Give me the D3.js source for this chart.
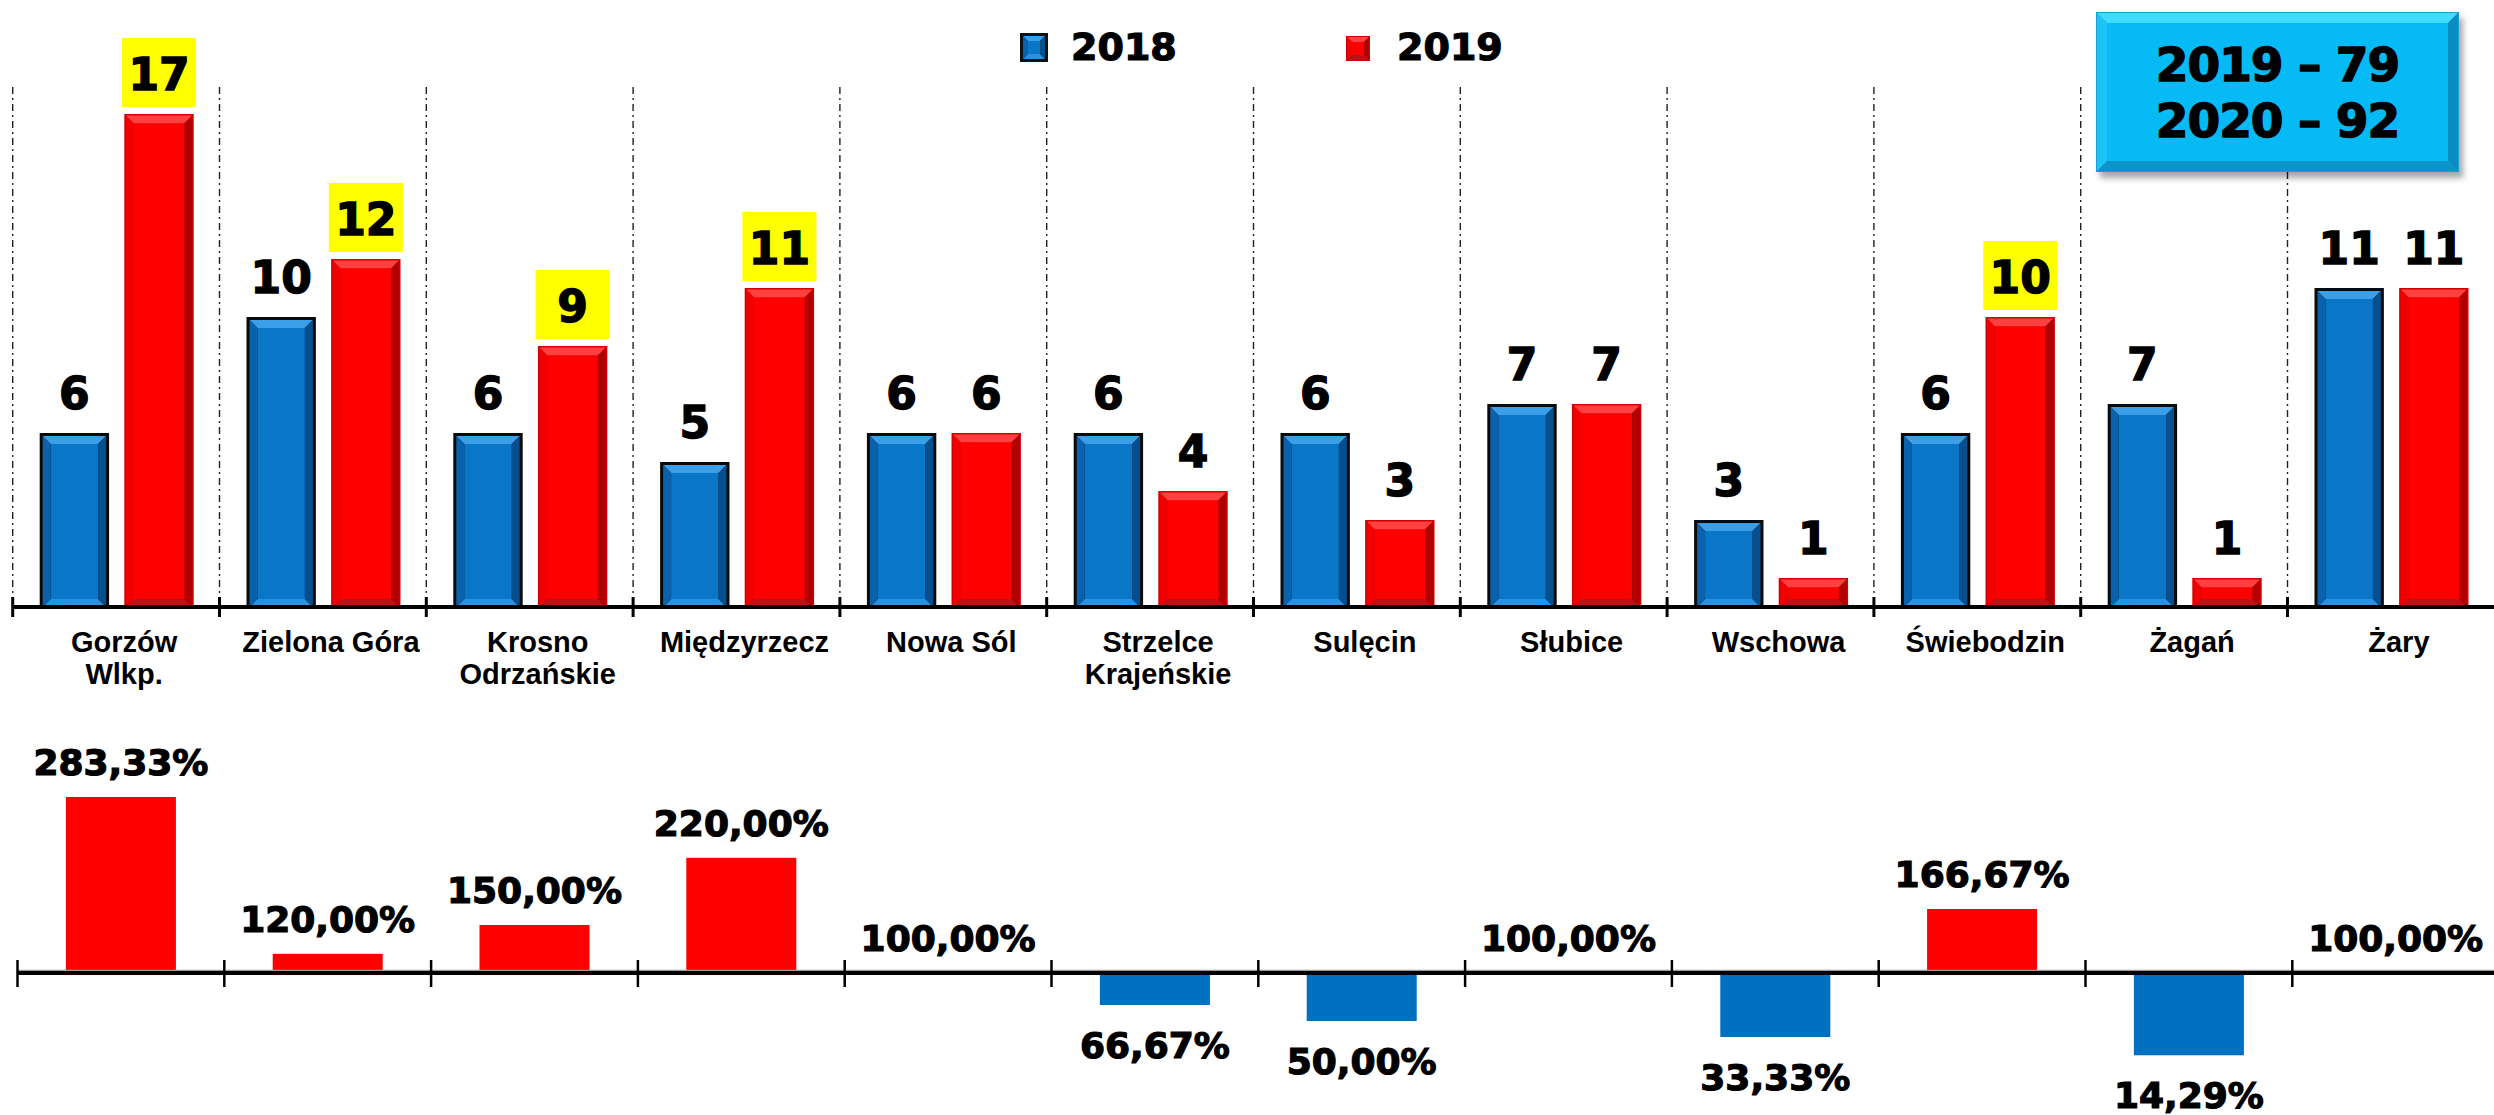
<!DOCTYPE html>
<html><head><meta charset="utf-8">
<script src="https://cdn.jsdelivr.net/npm/d3@7"></script>
<style>html,body{margin:0;padding:0;background:#fff;overflow:hidden} svg{display:block}</style>
</head><body>
<svg id="c" width="2494" height="1115"></svg>
<script>
// ---------- data ----------
const categories = ["Gorzów\nWlkp.", "Zielona Góra", "Krosno\nOdrzańskie", "Międzyrzecz", "Nowa Sól",
  "Strzelce\nKrajeńskie", "Sulęcin", "Słubice", "Wschowa", "Świebodzin", "Żagań", "Żary"];
const years = ["2018", "2019"];
const values2018 = [6, 10, 6, 5, 6, 6, 6, 7, 3, 6, 7, 11];
const values2019 = [17, 12, 9, 11, 6, 4, 3, 7, 1, 10, 1, 11];
const changePct = [283.33, 120.00, 150.00, 220.00, 100.00, 66.67, 50.00, 100.00, 33.33, 166.67, 14.29, 100.00];
const totalYears = ["2019", "2020"];
const totalValues = [79, 92];

// ---------- setup ----------
const W = 2494, H = 1115;
const svg = d3.select("#c");
svg.append("rect").attr("width", W).attr("height", H).attr("fill", "#fff");
const NUM_FONT = "'DejaVu Sans', 'Liberation Sans', sans-serif";
const LBL_FONT = "'Liberation Sans', Arial, sans-serif";

const defs = svg.append("defs");
const f = defs.append("filter").attr("id", "shadow").attr("x", "-10%").attr("y", "-10%").attr("width", "130%").attr("height", "140%");
f.append("feDropShadow").attr("dx", 4).attr("dy", 6).attr("stdDeviation", 3).attr("flood-color", "#000").attr("flood-opacity", 0.35);

const blueC = {top: "#3a9fe8", bottom: "#2a90e0", left: "#0a62ac", right: "#054f8e", face: "#0976c8"};
const redC = {top: "#ff4040", bottom: "#b81414", left: "#f00000", right: "#b00000", face: "#ff0000"};
const cyanC = {top: "#3fdcff", bottom: "#0a94c8", left: "#1cc4f6", right: "#0a8cc0", face: "#05baf5"};

function bevel(g, x0, y0, w, h, t, c) {
  t = Math.min(t, h / 2 - 1, w / 2 - 1);
  const P = pts => pts.map(p => p.join(",")).join(" ");
  g.append("polygon").attr("points", P([[x0, y0], [x0 + w, y0], [x0 + w - t, y0 + t], [x0 + t, y0 + t]])).attr("fill", c.top);
  g.append("polygon").attr("points", P([[x0, y0 + h], [x0 + w, y0 + h], [x0 + w - t, y0 + h - t], [x0 + t, y0 + h - t]])).attr("fill", c.bottom);
  g.append("polygon").attr("points", P([[x0, y0], [x0 + t, y0 + t], [x0 + t, y0 + h - t], [x0, y0 + h]])).attr("fill", c.left);
  g.append("polygon").attr("points", P([[x0 + w, y0], [x0 + w - t, y0 + t], [x0 + w - t, y0 + h - t], [x0 + w, y0 + h]])).attr("fill", c.right);
  g.append("rect").attr("x", x0 + t).attr("y", y0 + t).attr("width", Math.max(0, w - 2 * t)).attr("height", Math.max(0, h - 2 * t)).attr("fill", c.face);
}
function blueBar(g, x0, y0, w, h) {
  g.append("rect").attr("x", x0).attr("y", y0).attr("width", w).attr("height", h).attr("fill", "#0a0a0a");
  bevel(g, x0 + 3, y0 + 3, w - 6, h - 3, 8, blueC);
}
function redBar(g, x0, y0, w, h) {
  g.append("rect").attr("x", x0).attr("y", y0).attr("width", w).attr("height", h).attr("fill", "#d00000");
  bevel(g, x0 + 1.5, y0 + 1.5, w - 3, h - 1.5, 8, redC);
}

// ---------- top chart ----------
const top0 = 607;
const x = d3.scaleBand().domain(categories).range([12.7, 12.7 + 12 * 206.8]).padding(0);
const xi = d3.scaleBand().domain(years).range([27, 181]).paddingInner(0.18);
const y = d3.scaleLinear().domain([0, 17]).range([top0, 114]);

const gTop = svg.append("g");
// dotted separators
gTop.selectAll("line.sep").data(categories).join("line")
  .attr("x1", d => x(d)).attr("x2", d => x(d))
  .attr("y1", 87).attr("y2", top0)
  .attr("stroke", "#222").attr("stroke-width", 1.4).attr("stroke-dasharray", "7,4,2,4");

const series = [values2018, values2019];
categories.forEach((c, i) => {
  const g = gTop.append("g");
  years.forEach((yr, s) => {
    const v = series[s][i];
    const bx = x(c) + xi(yr), bw = xi.bandwidth();
    const by = y(v), bh = top0 - y(v);
    if (s === 0) blueBar(g, bx, by, bw, bh); else redBar(g, bx, by, bw, bh);
    const cx = bx + bw / 2;
    if (s === 1 && values2019[i] > values2018[i]) {
      g.append("rect").attr("x", cx - 37).attr("y", by - 76).attr("width", 74).attr("height", 69).attr("fill", "#ffff00");
    }
    g.append("text").attr("x", cx).attr("y", by - 24).attr("text-anchor", "middle")
      .attr("font-family", NUM_FONT).attr("font-weight", "bold").attr("font-size", 44)
      .attr("stroke", "#000").attr("stroke-width", 1.4).attr("fill", "#000").text(v);
  });
});

// axis
gTop.append("line").attr("x1", 12.7).attr("x2", W).attr("y1", top0).attr("y2", top0)
  .attr("stroke", "#000").attr("stroke-width", 4);
gTop.selectAll("line.tk").data(categories).join("line")
  .attr("x1", d => x(d)).attr("x2", d => x(d)).attr("y1", 597).attr("y2", 617)
  .attr("stroke", "#000").attr("stroke-width", 3);

// category labels
categories.forEach(c => {
  const lines = c.split("\n");
  const t = gTop.append("text").attr("text-anchor", "middle")
    .attr("font-family", LBL_FONT).attr("font-weight", "bold").attr("font-size", 29).attr("fill", "#000");
  lines.forEach((ln, k) => {
    t.append("tspan").attr("x", x(c) + x.bandwidth() / 2 + 8).attr("y", 652 + k * 32).text(ln);
  });
});

// legend
const legendX = [1020, 1346];
years.forEach((yr, s) => {
  const g = svg.append("g");
  if (s === 0) {
    g.append("rect").attr("x", legendX[s]).attr("y", 33).attr("width", 28).attr("height", 29).attr("fill", "#111");
    bevel(g, legendX[s] + 3, 36, 22, 23, 5, blueC);
  } else {
    g.append("rect").attr("x", legendX[s]).attr("y", 36).attr("width", 24).attr("height", 25).attr("fill", "#d00000");
    bevel(g, legendX[s] + 1, 37, 22, 23, 5, redC);
  }
  g.append("text").attr("x", legendX[s] + 51).attr("y", 60)
    .attr("font-family", NUM_FONT).attr("font-weight", "bold").attr("font-size", 38)
    .attr("stroke", "#000").attr("stroke-width", 1.2).attr("fill", "#000").text(yr);
});

// totals box
const box = svg.append("g");
const bxX = 2096, bxY = 12, bxW = 363, bxH = 160;
box.append("rect").attr("x", bxX).attr("y", bxY).attr("width", bxW).attr("height", bxH)
  .attr("fill", "#1a9fd0").attr("filter", "url(#shadow)");
bevel(box, bxX + 1, bxY + 1, bxW - 2, bxH - 2, 10, cyanC);
totalYears.forEach((yr, k) => {
  box.append("text").attr("x", bxX + bxW / 2).attr("y", 81 + k * 56).attr("text-anchor", "middle")
    .attr("font-family", NUM_FONT).attr("font-weight", "bold").attr("font-size", 47)
    .attr("letter-spacing", -1)
    .attr("stroke", "#000").attr("stroke-width", 1.4).attr("fill", "#000")
    .text(yr + " \u2013 " + totalValues[k]);
});

// ---------- bottom chart ----------
const bot0 = 973;
const x2 = d3.scaleBand().domain(categories).range([17.5, 17.5 + 12 * 206.8])
  .paddingInner(0.468).paddingOuter(0.234);
const y2 = d3.scaleLinear().domain([0, 300]).range([bot0 + 96, bot0 - 192]);
const loc = d3.formatLocale({decimal: ",", thousands: " ", grouping: [3], currency: ["", ""]});
const fmt = loc.format(".2f");

const gBot = svg.append("g");
gBot.selectAll("rect.pb").data(categories).join("rect")
  .attr("x", d => x2(d))
  .attr("width", x2.bandwidth())
  .attr("y", (d, i) => Math.min(y2(changePct[i]), y2(100)))
  .attr("height", (d, i) => Math.abs(y2(changePct[i]) - y2(100)))
  .attr("fill", (d, i) => changePct[i] >= 100 ? "#ff0000" : "#0070c0");

gBot.append("line").attr("x1", 17.5).attr("x2", W).attr("y1", bot0 - 2.5).attr("y2", bot0 - 2.5)
  .attr("stroke", "#9a9a9a").attr("stroke-width", 1.5);
gBot.append("line").attr("x1", 17.5).attr("x2", W).attr("y1", bot0).attr("y2", bot0)
  .attr("stroke", "#000").attr("stroke-width", 4);
const step2 = x2.step();
gBot.selectAll("line.tk").data(categories).join("line")
  .attr("x1", d => x2(d) - step2 * 0.234)
  .attr("x2", d => x2(d) - step2 * 0.234)
  .attr("y1", bot0 - 13).attr("y2", bot0 + 14)
  .attr("stroke", "#000").attr("stroke-width", 2.5);

gBot.selectAll("text.pl").data(categories).join("text")
  .attr("x", d => x2(d) + x2.bandwidth() / 2)
  .attr("y", (d, i) => changePct[i] >= 100 ? y2(changePct[i]) - 22 : y2(changePct[i]) + 53)
  .attr("text-anchor", "middle")
  .attr("font-family", NUM_FONT).attr("font-weight", "bold").attr("font-size", 36)
  .attr("stroke", "#000").attr("stroke-width", 1.2).attr("fill", "#000")
  .text((d, i) => fmt(changePct[i]) + "%");
</script>
</body></html>
